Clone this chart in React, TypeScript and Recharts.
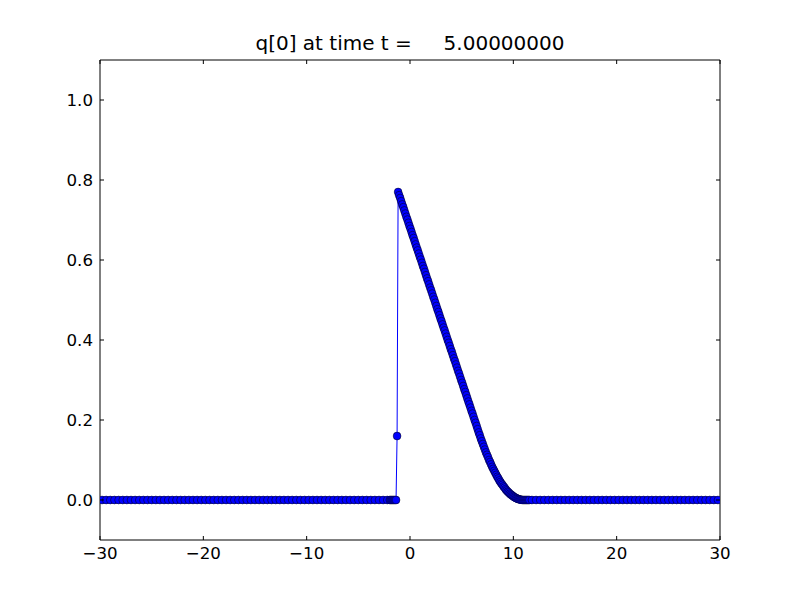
import React from 'react';
import { LineChart, Line, XAxis, YAxis } from 'recharts';

const X_TICKS = [-30, -20, -10, 0, 10, 20, 30];
const Y_TICKS = [0, 0.2, 0.4, 0.6, 0.8, 1.0];
const TITLE = 'q[0] at time t =     5.00000000';

// mesh: coarse cells outside the refined patch, fine cells around the wave
const xLeftStart = -29.8;
const xFineStart = -1.95;
const xRightStart = 11.8;
const dxCoarse = 0.4;
const dxFine = 0.1;

// q on the coarse cells left of the patch (x = -29.8 .. -2.2)
const qLeftCoarse = [
  0, 0, 0, 0, 0, 0, 0, 0, 0, 0,
  0, 0, 0, 0, 0, 0, 0, 0, 0, 0,
  0, 0, 0, 0, 0, 0, 0, 0, 0, 0,
  0, 0, 0, 0, 0, 0, 0, 0, 0, 0,
  0, 0, 0, 0, 0, 0, 0, 0, 0, 0,
  0, 0, 0, 0, 0, 0, 0, 0, 0, 0,
  0, 0, 0, 0, 0, 0, 0, 0, 0, 0,
];

// q on the fine cells (x = -1.95 .. 11.55)
const qFine = [
  0, 0, 0, 0, 0, 0, 0, 0.16,
  0.770, 0.762, 0.755, 0.747, 0.739, 0.732, 0.724, 0.716, 0.708, 0.701,
  0.693, 0.685, 0.678, 0.670, 0.662, 0.655, 0.647, 0.639, 0.631, 0.624,
  0.616, 0.608, 0.601, 0.593, 0.585, 0.578, 0.570, 0.562, 0.554, 0.547,
  0.539, 0.531, 0.524, 0.516, 0.508, 0.501, 0.493, 0.485, 0.477, 0.470,
  0.462, 0.454, 0.447, 0.439, 0.431, 0.424, 0.416, 0.408, 0.400, 0.393,
  0.385, 0.377, 0.370, 0.362, 0.354, 0.347, 0.339, 0.331, 0.323, 0.316,
  0.308, 0.300, 0.293, 0.285, 0.277, 0.270, 0.262, 0.254, 0.246, 0.239,
  0.231, 0.223, 0.216, 0.208, 0.200, 0.193, 0.185, 0.177, 0.169,
  0.162, 0.154, 0.147, 0.140, 0.133, 0.126, 0.119, 0.113, 0.107, 0.100,
  0.095, 0.089, 0.083, 0.078, 0.073, 0.068, 0.063, 0.058, 0.054, 0.049,
  0.045, 0.041, 0.038, 0.034, 0.031, 0.027, 0.024, 0.021, 0.019, 0.016,
  0.014, 0.012, 0.010, 0.008, 0.0065, 0.005, 0.0038, 0.0027, 0.0018, 0.0011,
  0.0006, 0.0002, 0, 0, 0, 0, 0, 0, 0,
];

// q on the coarse cells right of the patch (x = 11.8 .. 29.8)
const qRightCoarse = [
  0, 0, 0, 0, 0, 0, 0, 0, 0, 0,
  0, 0, 0, 0, 0, 0, 0, 0, 0, 0,
  0, 0, 0, 0, 0, 0, 0, 0, 0, 0,
  0, 0, 0, 0, 0, 0, 0, 0, 0, 0,
  0, 0, 0, 0, 0, 0,
];

const cells = (x0: number, dx: number, qs: number[]) =>
  qs.map((q, i) => ({ x: +(x0 + i * dx).toFixed(3), q }));

const data = [
  ...cells(xLeftStart, dxCoarse, qLeftCoarse),
  ...cells(xFineStart, dxFine, qFine),
  ...cells(xRightStart, dxCoarse, qRightCoarse),
];

const FONT = 'DejaVu Sans';
const TICK_FS = 16.67;

const fmtX = (v: number) => (v < 0 ? '\u2212' + Math.abs(v) : String(v));

const BottomTick = (props: any) => {
  const { x, y, payload } = props;
  return (
    <g>
      <line x1={x} y1={y} x2={x} y2={y - 4} stroke="#000" strokeWidth={1} />
      <text x={x} y={y + 19} textAnchor="middle" fontSize={TICK_FS} fontFamily={FONT} fill="#000">
        {fmtX(payload.value)}
      </text>
    </g>
  );
};

const TopTick = (props: any) => {
  const { x, y } = props;
  return <line x1={x} y1={y} x2={x} y2={y + 4} stroke="#000" strokeWidth={1} />;
};

const LeftTick = (props: any) => {
  const { x, y, payload } = props;
  return (
    <g>
      <line x1={x} y1={y} x2={x + 4} y2={y} stroke="#000" strokeWidth={1} />
      <text x={x - 7} y={y + 6} textAnchor="end" fontSize={TICK_FS} fontFamily={FONT} fill="#000">
        {payload.value.toFixed(1)}
      </text>
    </g>
  );
};

const RightTick = (props: any) => {
  const { x, y } = props;
  return <line x1={x} y1={y} x2={x - 4} y2={y} stroke="#000" strokeWidth={1} />;
};

export default function App() {
  return (
    <div style={{ position: 'absolute', left: 0, top: 0, width: 800, height: 600, background: '#fff' }}>
      <LineChart width={800} height={600} data={data} margin={{ top: 30, right: 50, bottom: 30, left: 40 }}>
        <XAxis
          xAxisId="b"
          dataKey="x"
          type="number"
          domain={[-30, 30]}
          ticks={X_TICKS}
          interval={0}
          height={30}
          tickSize={0}
          tickMargin={0}
          tickLine={false}
          axisLine={{ stroke: '#000', strokeWidth: 1 }}
          tick={(p: any) => <BottomTick {...p} />}
          allowDataOverflow
        />
        <XAxis
          xAxisId="t"
          orientation="top"
          dataKey="x"
          type="number"
          domain={[-30, 30]}
          ticks={X_TICKS}
          interval={0}
          height={30}
          tickSize={0}
          tickMargin={0}
          tickLine={false}
          axisLine={{ stroke: '#000', strokeWidth: 1 }}
          tick={(p: any) => <TopTick {...p} />}
          allowDataOverflow
        />
        <YAxis
          yAxisId="l"
          type="number"
          domain={[-0.1, 1.1]}
          ticks={Y_TICKS}
          interval={0}
          width={60}
          tickSize={0}
          tickMargin={0}
          tickLine={false}
          axisLine={{ stroke: '#000', strokeWidth: 1 }}
          tick={(p: any) => <LeftTick {...p} />}
          allowDataOverflow
        />
        <YAxis
          yAxisId="r"
          orientation="right"
          type="number"
          domain={[-0.1, 1.1]}
          ticks={Y_TICKS}
          interval={0}
          width={30}
          tickSize={0}
          tickMargin={0}
          tickLine={false}
          axisLine={{ stroke: '#000', strokeWidth: 1 }}
          tick={(p: any) => <RightTick {...p} />}
          allowDataOverflow
        />
        <Line
          xAxisId="b"
          yAxisId="l"
          type="linear"
          dataKey="q"
          stroke="#0000ff"
          strokeWidth={1}
          dot={{ r: 3.9, fill: '#0000ff', stroke: '#000', strokeWidth: 0.5 }}
          activeDot={false}
          isAnimationActive={false}
        />
      </LineChart>
      <svg width={800} height={600} style={{ position: 'absolute', left: 0, top: 0, pointerEvents: 'none' }}>
        <text x={410} y={50} textAnchor="middle" fontSize={20} fontFamily={FONT} fill="#000" style={{ whiteSpace: 'pre' }}>
          {TITLE}
        </text>
      </svg>
    </div>
  );
}
